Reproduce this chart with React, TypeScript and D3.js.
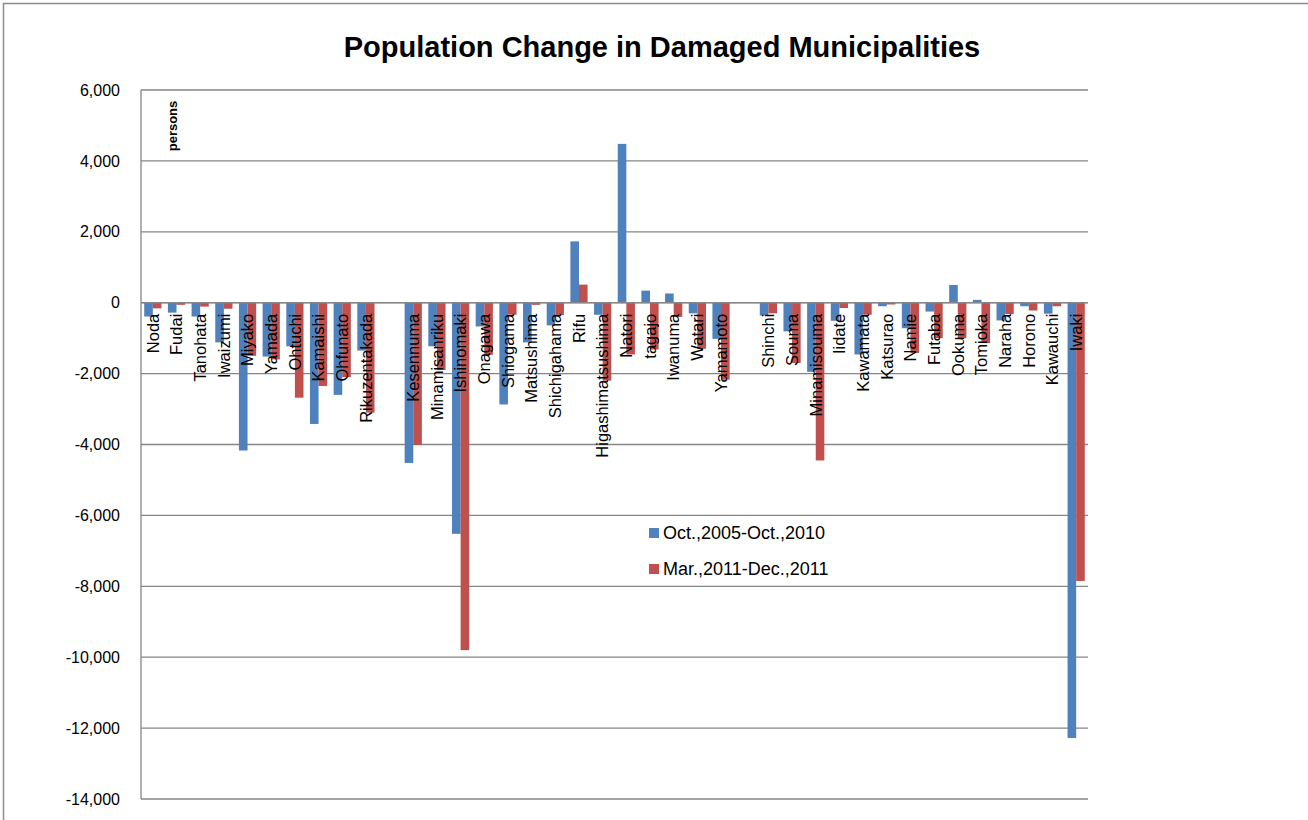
import * as d3 from "d3"

// municipalities, with blank slots between prefectures
const categories = [
  "Noda", "Fudai", "Tanohata", "Iwaizumi", "Miyako", "Yamada", "Ohtuchi", "Kamaishi", "Ohfunato", "Rikuzentakada",
  "",
  "Kesennuma", "Minamisanriku", "Ishinomaki", "Onagawa", "Shiogama", "Matsushima", "Shichigahama", "Rifu",
  "Higashimatsushima", "Natori", "tagajo", "Iwanuma", "Watari", "Yamamoto",
  "",
  "Shinchi", "Souma", "Minamisouma", "Iidate", "Kawamata", "Katsurao", "Namie", "Futaba", "Ookuma", "Tomioka",
  "Naraha", "Horono", "Kawauchi", "Iwaki",
]

const change2005to2010: (number | null)[] = [
  -390, -280, -390, -1120, -4170, -1520, -1230, -3420, -2600, -1350,
  null,
  -4520, -1230, -6520, -670, -2870, -1120, -640, 1730, -340, 4480, 340, 260, -300, -1020,
  null,
  -360, -810, -1950, -510, -1460, -100, -720, -250, 500, 80, -500, -100, -310, -12280,
]

const change2011: (number | null)[] = [
  -160, -60, -110, -170, -1500, -1600, -2680, -2350, -2100, -3100,
  null,
  -4010, -1900, -9800, -1470, -340, -60, -350, 510, -2200, -1460, -1320, -400, -1300, -2170,
  null,
  -300, -1700, -4450, -150, -340, -50, -1420, -1000, -1000, -1140, -320, -220, -100, -7850,
]

const seriesNames = ["Oct.,2005-Oct.,2010", "Mar.,2011-Dec.,2011"]
const seriesColors = ["#4F81BD", "#C0504D"]
const yTicks = [6000, 4000, 2000, 0, -2000, -4000, -6000, -8000, -10000, -12000, -14000]

const FONT = "'Liberation Sans', Arial, sans-serif"

export default function App() {
  const width = 1308
  const height = 820
  const plot = { left: 141, right: 1088, top: 90, bottom: 799 }

  const x = d3
    .scaleBand<number>()
    .domain(d3.range(categories.length))
    .range([plot.left, plot.right])
    .paddingInner(0)
    .paddingOuter(0)

  // gap width 150% -> each bar is 1/3.5 of a category
  const inner = d3
    .scaleBand<number>()
    .domain([0, 1])
    .range([0, x.bandwidth()])
    .paddingInner(0)
    .paddingOuter(0.75 / 2)

  const y = d3.scaleLinear().domain([-14000, 6000]).range([plot.bottom, plot.top])
  const fmt = (v: number) => d3.format(",")(v).replace("\u2212", "-")
  const series = [change2005to2010, change2011]

  return (
    <svg
      width={width}
      height={height}
      style={{ position: "absolute", left: 0, top: 0, background: "#fff" }}
      fontFamily={FONT}
    >
      {/* chart area border */}
      <rect x={3.5} y={3.5} width={1400} height={900} fill="#fff" stroke="#8c8c8c" strokeWidth={1.5} />

      <text x={662} y={57} textAnchor="middle" fontSize={29} fontWeight="bold" fill="#000">
        Population Change in Damaged Municipalities
      </text>

      {/* gridlines */}
      {yTicks.map((t) => (
        <g key={t}>
          <line x1={plot.left} x2={plot.right} y1={y(t)} y2={y(t)} stroke="#868686" strokeWidth={1.3} />
          <text x={120} y={y(t)} dy="0.35em" textAnchor="end" fontSize={16} fill="#000">
            {fmt(t)}
          </text>
        </g>
      ))}
      <line x1={plot.left} x2={plot.left} y1={plot.top} y2={plot.bottom} stroke="#868686" strokeWidth={1.3} />

      {/* bars */}
      {series.map((vals, s) =>
        vals.map((v, i) =>
          v === null ? null : (
            <rect
              key={`${s}-${i}`}
              x={(x(i) as number) + (inner(s) as number)}
              y={y(Math.max(0, v))}
              width={inner.bandwidth()}
              height={Math.abs(y(v) - y(0))}
              fill={seriesColors[s]}
            />
          )
        )
      )}

      {/* zero axis */}
      <line x1={plot.left} x2={plot.right} y1={y(0)} y2={y(0)} stroke="#868686" strokeWidth={1.5} />

      {/* category labels */}
      {categories.map((c, i) =>
        c === "" ? null : (
          <text
            key={i}
            transform={`translate(${(x(i) as number) + x.bandwidth() / 2},${y(0) + 11}) rotate(-90)`}
            dy="0.35em"
            textAnchor="end"
            fontSize={16.5}
            fill="#000"
          >
            {c}
          </text>
        )
      )}

      <text transform="translate(172,126) rotate(-90)" dy="0.35em" textAnchor="middle" fontSize={13} fontWeight="bold">
        persons
      </text>

      {/* legend */}
      {seriesNames.map((n, i) => (
        <g key={n} transform={`translate(649,${533 + i * 36})`}>
          <rect x={0} y={-5} width={10} height={10} fill={seriesColors[i]} />
          <text x={14} y={0} dy="0.35em" fontSize={18} fill="#000">
            {n}
          </text>
        </g>
      ))}
    </svg>
  )
}
